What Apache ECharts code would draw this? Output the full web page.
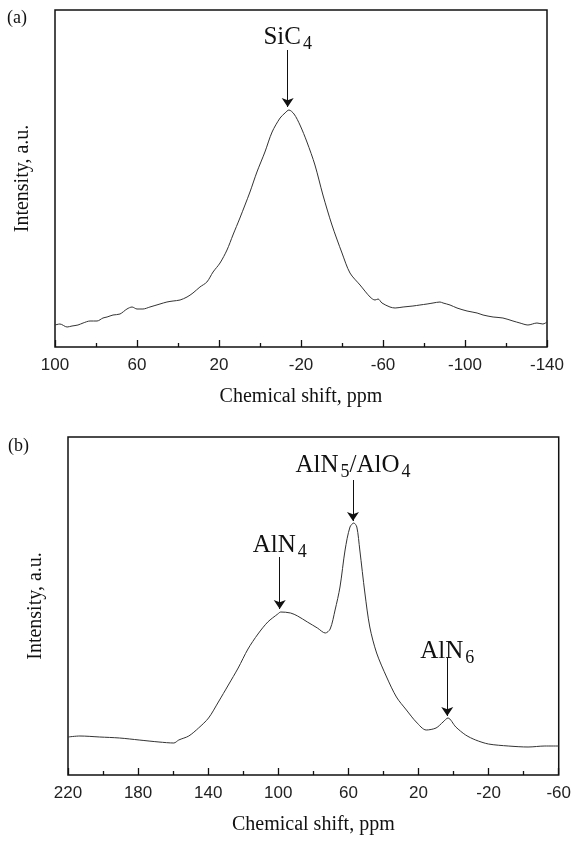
<!DOCTYPE html>
<html>
<head>
<meta charset="utf-8">
<script src="https://cdn.jsdelivr.net/npm/echarts@6/dist/echarts.min.js"></script>
<style>
  html, body { margin: 0; padding: 0; background: #fff; }
  #root { width: 574px; height: 841px; }
</style>
</head>
<body>
<div id="root"></div>
<script>
// panel (a) 29Si spectrum: chemical shift (ppm) and intensity (a.u.)
const shiftA = [100, 97.6, 94.1, 91.7, 88.8, 86.3, 82.9, 79.5, 76.6, 74.6, 71.7, 68.3, 64.9, 62.4, 60.0, 57.1,
  53.7, 48.8, 45.4, 42.4, 39.0, 35.6, 32.7, 29.3, 25.9, 22.9, 19.5, 16.1, 13.2, 9.8, 4.9, 1.5, -2.4, -5.9,
  -9.8, -12.2, -14.1, -16.6, -19.5, -22.9, -26.8, -30.7, -35.1, -40.0, -43.9, -48.8, -53.7, -56.1, -57.6,
  -59.5, -63.4, -65.9, -69.8, -74.6, -78.0, -81.5, -84.4, -87.8, -89.3, -92.7, -96.1, -101.0, -105.9,
  -108.8, -113.7, -118.5, -123.4, -126.8, -130.7, -135.1, -138.0, -140]
const intensA = [22, 23, 20, 21, 22, 24, 26, 26, 29, 30, 32, 33, 38, 40, 38, 38,
  40, 43, 45, 46, 47, 50, 54, 60, 65, 75, 84, 97, 112, 129, 155, 175, 195, 215,
  229, 234, 237, 233, 222, 205, 182, 152, 122, 94, 74, 62, 50, 47, 48,
  44, 40, 39, 40, 41, 42, 43, 44, 45, 44, 42, 39, 36, 34,
  32, 30, 29, 26, 24, 22, 24, 23, 25]

// panel (b) 27Al spectrum
const shiftB = [220, 213.2, 201.9, 190.6, 179.4, 168.1, 159.6, 156.8, 151.1, 145.5, 139.8, 134.2, 128.5,
  122.9, 117.3, 111.6, 106.0, 100.3, 98.6, 93.0, 89.0, 83.4, 77.7, 73.2, 70.4, 67.6, 64.8, 61.9, 59.1,
  56.9, 55.2, 53.5, 50.6, 47.8, 43.9, 38.2, 32.6, 26.9, 21.3, 15.6, 10.0, 6.0, 3.2, -1.3, -6.9, -12.6,
  -19.9, -31.2, -42.5, -52.1, -60]
const intensB = [38, 39, 38, 37, 35, 33, 32, 35, 39, 47, 57, 73, 90,
  107, 126, 141, 153, 161, 163, 162, 159, 153, 147, 142, 146, 165, 188, 225, 248,
  252, 248, 225, 182, 148, 122, 98, 78, 65, 53, 45, 47, 53, 57, 48, 40, 35,
  31, 29, 28, 29, 29]

// peak labels: text, label position, arrow top and arrow tip
const annoA = [
  { text: 'SiC{s|4}', x: -13.5, y: 310, arrowTop: 297, arrowTip: 240 }
]
const annoB = [
  { text: 'AlN{s|4}', x: 99.2, y: 230, arrowTop: 218, arrowTip: 166 },
  { text: 'AlN{s|5}/AlO{s|4}', x: 57.4, y: 310, arrowTop: 295, arrowTip: 254 },
  { text: 'AlN{s|6}', x: 3.6, y: 124, arrowTop: 117, arrowTip: 59 }
]

const pairs = (xs, ys) => xs.map((x, i) => [x, ys[i]])

const chart = echarts.init(document.getElementById('root'), null, { renderer: 'canvas' })

const serif = 'Liberation Serif'
const richText = {
  m: { fontFamily: serif, fontSize: 25, color: '#111' },
  s: { fontFamily: serif, fontSize: 18, color: '#111', padding: [14, 0, 0, 2] }
}

function xAxisOf (gridIndex, min, max) {
  return {
    gridIndex: gridIndex,
    type: 'value',
    inverse: true,
    min: min,
    max: max,
    interval: 40,
    name: 'Chemical shift, ppm',
    nameLocation: 'middle',
    nameGap: 40,
    nameTextStyle: { fontFamily: serif, fontSize: 20, color: '#111' },
    axisLine: { show: false },
    axisTick: { show: true, inside: true, length: 7, lineStyle: { color: '#111', width: 1.3 } },
    minorTick: { show: true, splitNumber: 2, length: 4, lineStyle: { color: '#111', width: 1.3 } },
    axisLabel: { fontFamily: 'Liberation Sans', fontSize: 17, color: '#222', margin: 10 },
    splitLine: { show: false }
  }
}

function yAxisOf (gridIndex, max) {
  return {
    gridIndex: gridIndex,
    type: 'value',
    min: 0,
    max: max,
    name: 'Intensity, a.u.',
    nameLocation: 'middle',
    nameGap: 22,
    nameTextStyle: { fontFamily: serif, fontSize: 20, color: '#111' },
    axisLine: { show: false },
    axisTick: { show: false },
    axisLabel: { show: false },
    splitLine: { show: false }
  }
}

function seriesOf (idx, data, anno) {
  return {
    type: 'line',
    xAxisIndex: idx,
    yAxisIndex: idx,
    data: data,
    showSymbol: false,
    smooth: 0.3,
    silent: true,
    lineStyle: { color: '#333', width: 1 },
    markLine: {
      silent: true,
      symbol: ['none', 'arrow'],
      symbolSize: 9,
      lineStyle: { color: '#111', width: 1, type: 'solid' },
      label: { show: false },
      data: anno.map(a => [{ coord: [a.x, a.arrowTop] }, { coord: [a.x, a.arrowTip] }])
    },
    markPoint: {
      silent: true,
      symbol: 'circle',
      symbolSize: 0,
      data: anno.map(a => ({
        coord: [a.x, a.y],
        label: {
          show: true,
          position: 'inside',
          formatter: a.text.replace(/^([^{]+)/, '{m|$1}').replace(/\}([^{]+)\{/g, '}{m|$1}{'),
          rich: richText
        }
      }))
    }
  }
}

const option = {
  animation: false,
  backgroundColor: '#fff',
  grid: [
    { left: 55, top: 10, width: 492, height: 337, show: true, borderColor: '#111', borderWidth: 1.5 },
    { left: 68, top: 437, width: 496, height: 338, show: true, borderColor: '#111', borderWidth: 1.5 }
  ],
  xAxis: [xAxisOf(0, -140, 100), xAxisOf(1, -60, 220)],
  yAxis: [yAxisOf(0, 337), yAxisOf(1, 338)],
  graphic: [
    { type: 'text', left: 7, top: 9, style: { text: '(a)', font: '18px "Liberation Serif"', fill: '#111' } },
    { type: 'text', left: 8, top: 437, style: { text: '(b)', font: '18px "Liberation Serif"', fill: '#111' } }
  ],
  series: [
    seriesOf(0, pairs(shiftA, intensA), annoA),
    seriesOf(1, pairs(shiftB, intensB), annoB)
  ]
}

chart.setOption(option)
</script>
</body>
</html>
